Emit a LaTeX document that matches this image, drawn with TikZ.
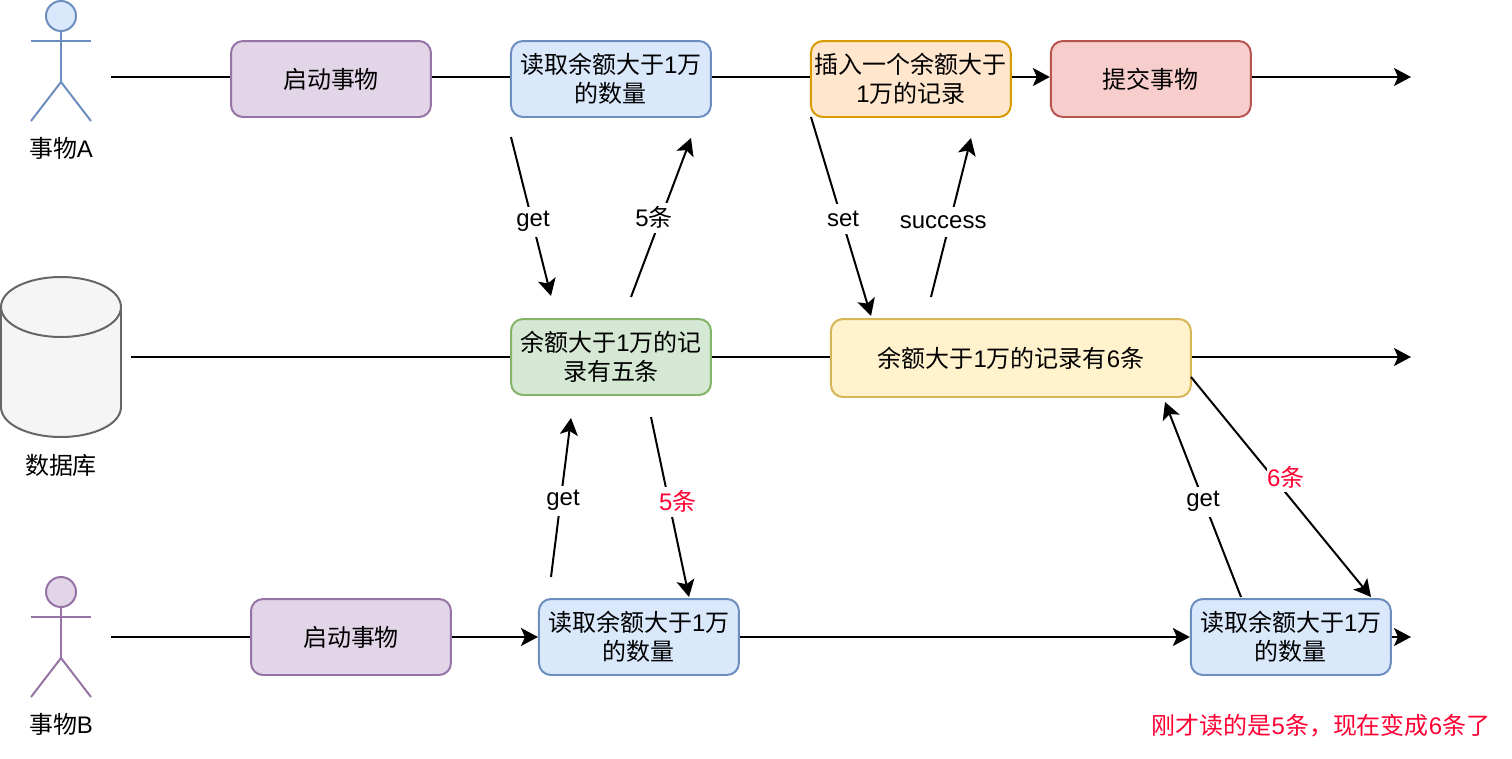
\documentclass[tikz,border=0pt]{standalone}
\usepackage{fontspec}
\setmainfont{Liberation Sans}
\newfontfamily\zhfont{Noto Sans CJK SC}
\newcommand{\zh}[1]{{\zhfont #1}}
\usetikzlibrary{positioning}
\usetikzlibrary{arrows.meta}
\definecolor{bluefill}{HTML}{DAE8FC}
\definecolor{blueline}{HTML}{6C8EBF}
\definecolor{purplefill}{HTML}{E1D5E7}
\definecolor{purpleline}{HTML}{9673A6}
\definecolor{greenfill}{HTML}{D5E8D4}
\definecolor{greenline}{HTML}{82B366}
\definecolor{orangefill}{HTML}{FFE6CC}
\definecolor{orangeline}{HTML}{D79B00}
\definecolor{redfill}{HTML}{F8CECC}
\definecolor{redline}{HTML}{B85450}
\definecolor{yellowfill}{HTML}{FFF2CC}
\definecolor{yellowline}{HTML}{D6B656}
\definecolor{dbfill}{HTML}{F5F5F5}
\definecolor{dbline}{HTML}{666666}
\definecolor{warnred}{HTML}{FF0033}
\begin{document}
\begin{tikzpicture}[
			x=0.02cm, y=-0.02cm,
			node distance=5.6cm,
			line width=1.13pt,
			every node/.style={font=\fontsize{13.65}{16.6}\selectfont},
			box/.style={rectangle, rounded corners=0.24cm, minimum width=4cm, minimum height=1.52cm, inner sep=0pt, align=center, draw},
			bluebox/.style={box, draw=blueline, fill=bluefill},
			purplebox/.style={box, draw=purpleline, fill=purplefill},
			greenbox/.style={box, draw=greenline, fill=greenfill},
			orangebox/.style={box, draw=orangeline, fill=orangefill},
			redbox/.style={box, draw=redline, fill=redfill},
			yellowbox/.style={box, minimum width=7.2cm, minimum height=1.56cm, draw=yellowline, fill=yellowfill},
			head/.style={circle, minimum size=0.6cm, inner sep=0pt, draw},
			tag/.style={fill=white, inner xsep=0pt, inner ysep=0pt, minimum height=0.6cm},
			flow/.style={arrows=-{Stealth[length=0.34cm, width=0.36cm, inset=0.08cm]}},
			]
			\useasboundingbox (0,0) rectangle (1512,758);
			
			\coordinate (a_out) at (111,77);
			\coordinate (a_end) at (1411,77);
			\coordinate (db_out) at (131,357);
			\coordinate (db_end) at (1411,357);
			\coordinate (b_out) at (111,637);
			\coordinate (b_end) at (1411,637);
			
			\coordinate (a_get_s) at (511,137);
			\coordinate (a_get_e) at (551,296);
			\coordinate (a_five_s) at (631,297);
			\coordinate (a_five_e) at (691,138);
			\coordinate (a_set_s) at (811,117);
			\coordinate (a_set_e) at (871,316);
			\coordinate (a_ok_s) at (931,297);
			\coordinate (a_ok_e) at (971,138);
			\coordinate (b_get_s) at (551,577);
			\coordinate (b_get_e) at (571,418);
			\coordinate (b_five_s) at (651,417);
			\coordinate (b_five_e) at (689,597);
			\coordinate (b_six_s) at (1191,377);
			\coordinate (b_six_e) at (1371,597);
			\coordinate (b_again_s) at (1241,597);
			\coordinate (b_again_e) at (1165,402);
			
			\node[purplebox]   (start_a) at (331,79)                      {\zh{启动事物}};
			\node[bluebox]     (read_a) [right of=start_a]                {\zh{读取余额大于}1\zh{万}\\\zh{的数量}};
			\node[orangebox]   (insert_a) [right of=read_a, xshift=0.4cm] {\zh{插入一个余额大于}\\1\zh{万的记录}};
			\node[redbox]      (commit_a) [right of=insert_a, xshift=-0.8cm] {\zh{提交事物}};
			\node[greenbox]    (db_five) at (611,357)                     {\zh{余额大于}1\zh{万的记}\\\zh{录有五条}};
			\node[yellowbox]   (db_six) [right of=db_five, xshift=2.4cm, yshift=-0.02cm] {\zh{余额大于}1\zh{万的记录有}6\zh{条}};
			\node[purplebox]   (start_b) at (351,637)                     {\zh{启动事物}};
			\node[bluebox]     (read_b) [right of=start_b, xshift=0.16cm] {\zh{读取余额大于}1\zh{万}\\\zh{的数量}};
			\node[bluebox]     (again_b) [right of=read_b, xshift=7.44cm] {\zh{读取余额大于}1\zh{万}\\\zh{的数量}};
			
			% actors
			\node[head, draw=blueline, fill=bluefill] (head_a) at (61,16) {};
			\draw [blueline] (head_a.south) -- ++(0,50) coordinate (hip_a);
			\draw [blueline] (31,41) -- (91,41);
			\draw [blueline] (31,121) -- (hip_a) -- (91,121);
			\node (name_a) at (61,148) {\zh{事物}A};
			
			\node[head, draw=purpleline, fill=purplefill] (head_b) at (61,592) {};
			\draw [purpleline] (head_b.south) -- ++(0,50) coordinate (hip_b);
			\draw [purpleline] (31,617) -- (91,617);
			\draw [purpleline] (31,697) -- (hip_b) -- (91,697);
			\node (name_b) at (61,724) {\zh{事物}B};
			
			% database
			\draw [draw=dbline, fill=dbfill] (1,307) .. controls (1,290) and (28,277) .. (61,277) .. controls (94,277) and (121,290) .. (121,307) -- (121,407) .. controls (121,424) and (94,437) .. (61,437) .. controls (28,437) and (1,424) .. (1,407) -- cycle;
			\draw [draw=dbline] (1,307) .. controls (1,324) and (28,337) .. (61,337) .. controls (94,337) and (121,324) .. (121,307);
			\node (name_db) at (61,465) {\zh{数据库}};
			
			\draw        (a_out)                -- (start_a.west |- a_out);
			\draw        (start_a.east |- a_out) -- (read_a.west |- a_out);
			\draw        (read_a.east |- a_out)  -- (insert_a.west |- a_out);
			\draw [flow] (insert_a.east |- a_out) -- (commit_a.west |- a_out);
			\draw [flow] (commit_a.east |- a_out) -- (a_end);
			\draw        (db_out)               -- (db_five);
			\draw        (db_five.east |- db_out) -- (db_six.west |- db_out);
			\draw [flow] (db_six.east |- db_out)  -- (db_end);
			\draw        (b_out)                -- (start_b);
			\draw [flow] (start_b)  -- (read_b);
			\draw [flow] (read_b)   -- (again_b);
			\draw [flow] (again_b)  -- (b_end);
			
			\draw [flow] (a_get_s)   --node[tag, xshift=0.04cm, yshift=-0.1cm]    {get}      (a_get_e);
			\draw [flow] (a_five_s)  --node[tag, xshift=-0.14cm]                  {5\zh{条}} (a_five_e);
			\draw [flow] (a_set_s)   --node[tag, xshift=0.04cm, yshift=-0.04cm]   {set}      (a_set_e);
			\draw [flow] (a_ok_s)    --node[tag, xshift=-0.14cm, yshift=-0.02cm, pos=0.48] {success}  (a_ok_e);
			\draw [flow] (b_get_s)   --node[tag, xshift=0.04cm, yshift=-0.06cm]   {get}      (b_get_e);
			\draw [flow] (b_five_s)  --node[tag, text=warnred, xshift=0.18cm, pos=0.47] {5\zh{条}} (b_five_e);
			\draw [flow] (b_six_s)   --node[tag, text=warnred, xshift=0.24cm, yshift=0.02cm, pos=0.46] {6\zh{条}} (b_six_e);
			\draw [flow] (b_again_s) --node[tag, yshift=-0.04cm]                  {get}      (b_again_e);
			
			\node[text=warnred] (note_b) at (1321,726) {\zh{刚才读的是}5\zh{条，现在变成}6\zh{条了}};
			
			\end{tikzpicture}
\end{document}
